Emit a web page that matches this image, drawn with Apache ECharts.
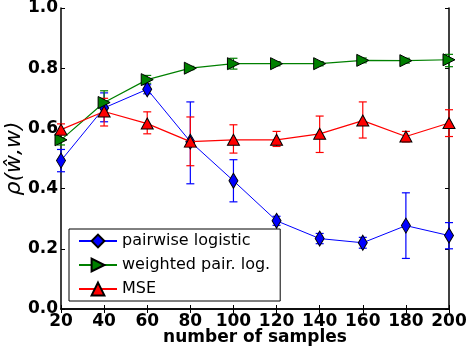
<!DOCTYPE html>
<html>
<head>
<meta charset="utf-8">
<script src="https://cdn.jsdelivr.net/npm/echarts@6/dist/echarts.min.js"></script>
<style>
html,body{margin:0;padding:0;background:#fff;}
#chart{width:466px;height:348px;}
</style>
</head>
<body>
<div id="chart"></div>
<script>
var samples = [20, 40, 60, 80, 100, 120, 140, 160, 180, 200];

var pairwise     = [0.493, 0.668, 0.730, 0.556, 0.426, 0.293, 0.234, 0.220, 0.277, 0.244];
var pairwiseLow  = [0.456, 0.622, 0.715, 0.416, 0.356, 0.278, 0.217, 0.202, 0.168, 0.200];
var pairwiseHigh = [0.530, 0.718, 0.745, 0.688, 0.496, 0.308, 0.251, 0.238, 0.386, 0.287];

var weighted     = [0.562, 0.686, 0.762, 0.800, 0.815, 0.815, 0.815, 0.826, 0.825, 0.828];
var weightedLow  = [0.545, 0.650, 0.750, 0.795, 0.797, 0.808, 0.808, 0.818, 0.817, 0.805];
var weightedHigh = [0.580, 0.725, 0.776, 0.806, 0.833, 0.822, 0.822, 0.834, 0.833, 0.846];

var mse     = [0.596, 0.656, 0.616, 0.556, 0.562, 0.562, 0.582, 0.626, 0.573, 0.618];
var mseLow  = [0.578, 0.608, 0.582, 0.476, 0.518, 0.540, 0.520, 0.568, 0.555, 0.573];
var mseHigh = [0.615, 0.700, 0.655, 0.638, 0.612, 0.590, 0.641, 0.688, 0.590, 0.662];

var names = ['pairwise logistic', 'weighted pair. log.', 'MSE'];
var colors = ['#0000ff', '#008000', '#ff0000'];

var myChart = echarts.init(document.getElementById('chart'));

function pairs(ys) {
    return samples.map(function (x, i) { return [x, ys[i]]; });
}

function errData(lo, hi) {
    return samples.map(function (x, i) { return [x, lo[i], hi[i]]; });
}

// vertical error bar with caps
function errorBar(color) {
    return function (params, api) {
        var x = api.value(0);
        var p1 = api.coord([x, api.value(1)]);
        var p2 = api.coord([x, api.value(2)]);
        var cap = 4;
        var style = { stroke: color, lineWidth: 1.2 };
        return {
            type: 'group',
            children: [
                { type: 'line', shape: { x1: p1[0], y1: p1[1], x2: p2[0], y2: p2[1] }, style: style },
                { type: 'line', shape: { x1: p1[0] - cap, y1: p1[1], x2: p1[0] + cap, y2: p1[1] }, style: style },
                { type: 'line', shape: { x1: p2[0] - cap, y1: p2[1], x2: p2[0] + cap, y2: p2[1] }, style: style }
            ]
        };
    };
}

var tickFont = { fontFamily: 'DejaVu Sans', fontWeight: 'bold', fontSize: 17, color: '#000' };

var option = {
    animation: false,
    backgroundColor: '#fff',
    grid: { left: 61, right: 17, top: 8, bottom: 39, outerBoundsMode: 'none', containLabel: false },
    legend: {
        orient: 'vertical',
        left: 69,
        top: 229,
        width: 208,
        padding: [4, 10, 4, 9],
        itemGap: 8,
        itemWidth: 38,
        itemHeight: 16,
        backgroundColor: '#fff',
        borderColor: '#000',
        borderWidth: 1,
        textStyle: { fontFamily: 'DejaVu Sans', fontSize: 16, color: '#000' },
        data: names
    },
    xAxis: [
        {
            type: 'value', min: 20, max: 200, interval: 20,
            name: 'number of samples', nameLocation: 'middle', nameGap: 20, nameMoveOverlap: false,
            nameTextStyle: { fontFamily: 'DejaVu Sans', fontWeight: 'bold', fontSize: 17, color: '#000' },
            axisLine: { lineStyle: { color: '#000', width: 1.5 } },
            axisTick: { inside: true, length: 4, lineStyle: { color: '#000' } },
            axisLabel: Object.assign({ margin: 4 }, tickFont),
            splitLine: { show: false }
        },
        {
            type: 'value', min: 20, max: 200, interval: 20, position: 'top',
            axisLine: { lineStyle: { color: '#000', width: 1.5 } },
            axisTick: { inside: true, length: 4, lineStyle: { color: '#000' } },
            axisLabel: { show: false },
            splitLine: { show: false }
        }
    ],
    yAxis: [
        {
            type: 'value', min: 0, max: 1, interval: 0.2,
            name: 'ρ(ŵ,w)', nameLocation: 'middle', nameGap: 36, nameRotate: 90, nameMoveOverlap: false,
            nameTextStyle: { fontFamily: 'DejaVu Sans', fontStyle: 'italic', fontSize: 22, color: '#000' },
            axisLine: { lineStyle: { color: '#000', width: 1.5 } },
            axisTick: { inside: true, length: 4, lineStyle: { color: '#000' } },
            axisLabel: Object.assign({ margin: 3, formatter: function (v) { return v.toFixed(1); } }, tickFont),
            splitLine: { show: false }
        },
        {
            type: 'value', min: 0, max: 1, interval: 0.2, position: 'right',
            axisLine: { lineStyle: { color: '#000', width: 1.5 } },
            axisTick: { inside: true, length: 4, lineStyle: { color: '#000' } },
            axisLabel: { show: false },
            splitLine: { show: false }
        }
    ],
    series: [
        {
            type: 'custom', renderItem: errorBar(colors[0]), data: errData(pairwiseLow, pairwiseHigh),
            encode: { x: 0, y: [1, 2] }, z: 2, silent: true
        },
        {
            type: 'custom', renderItem: errorBar(colors[1]), data: errData(weightedLow, weightedHigh),
            encode: { x: 0, y: [1, 2] }, z: 2, silent: true
        },
        {
            type: 'custom', renderItem: errorBar(colors[2]), data: errData(mseLow, mseHigh),
            encode: { x: 0, y: [1, 2] }, z: 2, silent: true
        },
        {
            name: names[0], type: 'line', data: pairs(pairwise), z: 3,
            symbol: 'diamond', symbolSize: [9, 15],
            lineStyle: { color: colors[0], width: 1 },
            itemStyle: { color: colors[0], borderColor: '#000', borderWidth: 1 }
        },
        {
            name: names[1], type: 'line', data: pairs(weighted), z: 4,
            symbol: 'triangle', symbolSize: [12, 12], symbolRotate: -90,
            lineStyle: { color: colors[1], width: 1.2 },
            itemStyle: { color: colors[1], borderColor: '#000', borderWidth: 1 }
        },
        {
            name: names[2], type: 'line', data: pairs(mse), z: 5,
            symbol: 'triangle', symbolSize: [12, 11],
            lineStyle: { color: colors[2], width: 1.2 },
            itemStyle: { color: colors[2], borderColor: '#000', borderWidth: 1 }
        }
    ]
};

myChart.setOption(option);
</script>
</body>
</html>
